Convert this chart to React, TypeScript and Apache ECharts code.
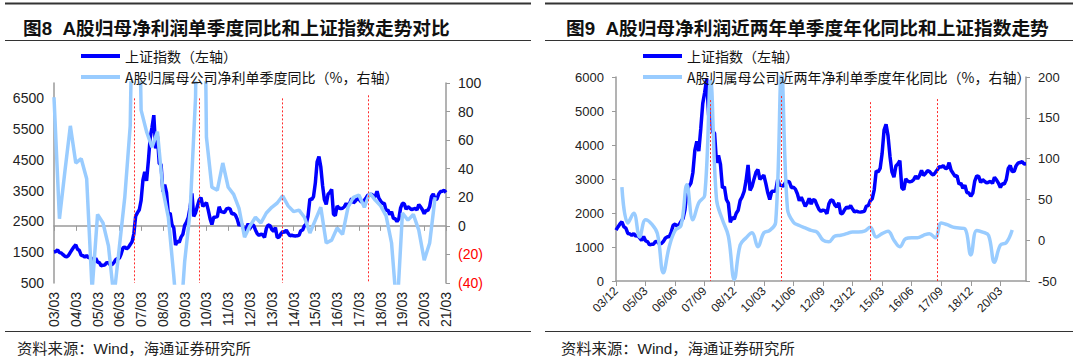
import React, { useEffect, useRef } from "react";
import * as echarts from "echarts";

// ---------- DATA ----------
// Shanghai Composite, month-end, 2003-03 .. 2021-04
const sseMonthly: number[] = [
  // 2003 Mar-Dec
  1510, 1521, 1577, 1487, 1477, 1421, 1367, 1349, 1397, 1497,
  // 2004
  1590, 1676, 1742, 1595, 1555, 1399, 1386, 1342, 1396, 1320, 1340, 1266,
  // 2005
  1192, 1306, 1181, 1159, 1060, 1080, 1083, 1162, 1155, 1092, 1099, 1161,
  // 2006
  1258, 1299, 1298, 1440, 1641, 1672, 1612, 1658, 1752, 1837, 2099, 2675,
  // 2007
  2786, 2881, 3183, 3841, 4109, 3820, 4471, 5218, 5552, 5955, 4871, 5262,
  // 2008
  4383, 4349, 3473, 3693, 3433, 2736, 2775, 2397, 2293, 1729, 1871, 1821,
  // 2009
  1991, 2082, 2373, 2477, 2633, 2959, 3412, 2667, 2779, 2996, 3195, 3277,
  // 2010
  2989, 3052, 3110, 2871, 2592, 2398, 2638, 2639, 2656, 2979, 2820, 2808,
  // 2011
  2791, 2905, 2928, 2911, 2743, 2762, 2702, 2568, 2359, 2468, 2333, 2199,
  // 2012
  2292, 2429, 2263, 2397, 2373, 2225, 2103, 2048, 2086, 2069, 1980, 2269,
  // 2013
  2385, 2366, 2237, 2178, 2301, 1979, 1994, 2098, 2175, 2141, 2220, 2116,
  // 2014
  2033, 2056, 2033, 2026, 2039, 2048, 2202, 2217, 2364, 2420, 2683, 3235,
  // 2015
  3210, 3310, 3748, 4442, 4612, 4277, 3664, 3206, 3053, 3383, 3445, 3539,
  // 2016
  2738, 2688, 3004, 2938, 2917, 2930, 2979, 3085, 3005, 3100, 3250, 3104,
  // 2017
  3159, 3242, 3223, 3155, 3117, 3192, 3273, 3361, 3349, 3393, 3317, 3307,
  // 2018
  3481, 3259, 3169, 3082, 3095, 2847, 2876, 2725, 2821, 2603, 2588, 2494,
  // 2019
  2585, 2941, 3091, 3078, 2899, 2979, 2933, 2886, 2905, 2929, 2872, 3050,
  // 2020
  2977, 2880, 2750, 2860, 2852, 2985, 3310, 3396, 3218, 3225, 3392, 3473,
  // 2021 Jan-Apr
  3483, 3509, 3442, 3447,
];

// Quarterly YoY of A-share net profit (%), 03/03 .. 20/09
const profitYoyQ: number[] = [
  90, 5, 38, 70, 44, 47, 33, -45, 8, 2, -14, -50,
  -15, 20, 70, 300, 81, 66, 55, 66, 25, 6, -35, -80,
  -25, 10, 90, 400, 62, 27, 25, 44, 27, 22, 12, -8,
  0, 6, 2, 9, 13, 16, 21, 14, 10, 11, 6, -5,
  4, 13, -12, -10, -1.5, -6, 13, 20, 21.6, 13, 23, 18,
  14, 7, -12, -60, 9, 4, 8, -3, -24, -12, 20,
];

// Quarterly 2-year annualised YoY (%), 04/03 .. 20/09
const profit2yQ: number[] = [
  65, 21, 33, 4, 25, 20, 8, -40, -8, 12, 18, 68,
  25, 46, 55, 195, 50, 25, 5, -48, -6, 3, 9, -8,
  9, 12, 22, 205, 38, 22, 18, 15, 12, 10, 0, -2,
  5, 6, 8, 10, 10, 11, 16, 4, 8, 11, 0, -8,
  2, 3, 3, 6, 8, 3, 21, 19, 16, 15, 14, -18,
  12, 10, 6, -27, -6, -3, 12.5,
];

const redLines1: string[] = ["06/11", "09/11", "13/09", "17/08"];
const redTops1: number[] = [6500, 6500, 6500, 6600];
const redLines2: string[] = ["07/12", "10/12", "14/09", "17/07"];
const redTops2: number[] = [5320, 5440, 5260, 5350];

const nameSse = "上证指数（左轴）";
const name1 = "A股归属母公司净利单季度同比（%，右轴）";
const name2 = "A股归属母公司近两年净利单季度年化同比（%，右轴）";
const title1 = "图8  A股归母净利润单季度同比和上证指数走势对比";
const title2 = "图9  A股归母净利润近两年单季度年化同比和上证指数走势";
const sourceText = "资料来源：Wind，海通证券研究所";

// ---------- helpers ----------
function monthLabels(y: number, m: number, n: number, step = 1): string[] {
  const out: string[] = [];
  let yy = y;
  let mm = m;
  for (let i = 0; i < n; i++) {
    out.push(String(yy % 100).padStart(2, "0") + "/" + String(mm).padStart(2, "0"));
    mm += step;
    while (mm > 12) {
      mm -= 12;
      yy += 1;
    }
  }
  return out;
}

const cats1 = monthLabels(2003, 3, 217);
const cats2 = monthLabels(2003, 12, 209);
const sse1 = sseMonthly.slice(0, 217);
const sse2 = sseMonthly.slice(9, 218);
const q1Dates = monthLabels(2003, 3, profitYoyQ.length, 3);
const q2Dates = monthLabels(2004, 3, profit2yQ.length, 3);

const LATIN = '"Liberation Sans", Arial, "Noto Sans CJK SC", sans-serif';
const CJK = '"Noto Sans CJK SC", sans-serif';
const AXIS_COLOR = "#9a9a9a";
const LABEL_COLOR = "#222";
const BLUE = "#0000ff";
const LIGHT = "#99ccff";

const plain = (v: number) => String(v);

export default function App() {
  const ref = useRef<HTMLDivElement>(null);

  useEffect(() => {
    document.body.style.margin = "0";
    if (!ref.current) return;
    const chart = echarts.init(ref.current, undefined, { renderer: "svg" });

    const axisLine = { show: true, lineStyle: { color: AXIS_COLOR, width: 1.5 } };
    const axisTick = { show: true, length: 4, lineStyle: { color: AXIS_COLOR, width: 1 } };

    const mkRed = (cats: string[], tops: number[], bottom: number) =>
      cats.map((c, i) => [
        { coord: [c, tops[i]] },
        { coord: [c, bottom] },
      ]);

    const option: any = {
      animation: false,
      textStyle: { fontFamily: LATIN },
      title: [
        {
          text: title1,
          left: 18,
          top: 14,
          textStyle: { fontSize: 18.7, fontWeight: "bold", color: "#111", fontFamily: LATIN },
        },
        {
          text: title2,
          left: 561,
          top: 14,
          textStyle: { fontSize: 18.7, fontWeight: "bold", color: "#111", fontFamily: LATIN },
        },
      ],
      legend: [
        {
          left: 76,
          top: 44,
          orient: "vertical",
          icon: "rect",
          itemWidth: 39,
          itemHeight: 4,
          itemGap: 7,
          data: [nameSse, name1],
          textStyle: { fontSize: 14, color: "#111", fontFamily: CJK },
          selectedMode: false,
        },
        {
          left: 638,
          top: 44,
          orient: "vertical",
          icon: "rect",
          itemWidth: 39,
          itemHeight: 4,
          itemGap: 7,
          data: [nameSse, name2],
          textStyle: { fontSize: 14, color: "#111", fontFamily: CJK },
          selectedMode: false,
        },
      ],
      grid: [
        { left: 54, top: 83, width: 392, height: 200 },
        { left: 616, top: 77, width: 410, height: 204 },
      ],
      xAxis: [
        {
          type: "category",
          gridIndex: 0,
          data: cats1,
          boundaryGap: false,
          axisLine,
          axisTick: { ...axisTick, interval: 11, length: 5 },
          axisLabel: { interval: 11, rotate: 90, fontSize: 14, color: LABEL_COLOR, margin: 9 },
          splitLine: { show: false },
        },
        {
          type: "category",
          gridIndex: 1,
          data: cats2,
          boundaryGap: false,
          axisLine,
          axisTick: { ...axisTick, interval: 14, length: 5 },
          axisLabel: { interval: 14, rotate: 45, fontSize: 12, color: LABEL_COLOR, margin: 8 },
          splitLine: { show: false },
        },
      ],
      yAxis: [
        {
          type: "value",
          gridIndex: 0,
          position: "left",
          min: 500,
          max: 7000,
          interval: 1000,
          axisLine,
          axisTick: { show: false },
          splitLine: { show: false },
          axisLabel: { showMaxLabel: false, fontSize: 14, color: LABEL_COLOR, margin: 10, formatter: plain },
        },
        {
          type: "value",
          gridIndex: 0,
          position: "right",
          min: -40,
          max: 100,
          interval: 20,
          axisLine,
          axisTick,
          splitLine: { show: false },
          axisLabel: {
            fontSize: 14,
            color: LABEL_COLOR,
            margin: 12,
            formatter: (v: number) => (v < 0 ? `{neg|(${-v})}` : `${v}`),
            rich: { neg: { color: "#ff0000", fontSize: 14, fontFamily: LATIN } },
          },
        },
        {
          type: "value",
          gridIndex: 1,
          position: "left",
          min: 0,
          max: 6000,
          interval: 1000,
          axisLine,
          axisTick,
          splitLine: { show: false },
          axisLabel: { fontSize: 13, color: LABEL_COLOR, margin: 12, formatter: plain },
        },
        {
          type: "value",
          gridIndex: 1,
          position: "right",
          min: -50,
          max: 200,
          interval: 50,
          axisLine,
          axisTick,
          splitLine: { show: false },
          axisLabel: { fontSize: 13, color: LABEL_COLOR, margin: 12, formatter: plain },
        },
      ],
      series: [
        {
          name: nameSse,
          type: "line",
          xAxisIndex: 0,
          yAxisIndex: 0,
          data: sse1,
          symbol: "none",
          showSymbol: false,
          lineStyle: { color: BLUE, width: 3.5 },
          itemStyle: { color: BLUE },
          z: 2,
        },
        {
          name: name1,
          type: "line",
          xAxisIndex: 0,
          yAxisIndex: 1,
          data: q1Dates.map((d, i) => [d, profitYoyQ[i]]),
          symbol: "none",
          showSymbol: false,
          lineStyle: { color: LIGHT, width: 3.5 },
          itemStyle: { color: LIGHT },
          z: 3,
        },
        {
          name: "red1",
          type: "line",
          xAxisIndex: 0,
          yAxisIndex: 0,
          data: [],
          z: 5,
          markLine: {
            silent: true,
            symbol: "none",
            label: { show: false },
            lineStyle: { color: "#ff2a2a", type: [2, 2], width: 1 },
            data: mkRed(redLines1, redTops1, 500),
          },
        },
        {
          name: nameSse,
          type: "line",
          xAxisIndex: 1,
          yAxisIndex: 2,
          data: sse2,
          symbol: "none",
          showSymbol: false,
          lineStyle: { color: BLUE, width: 3.5 },
          itemStyle: { color: BLUE },
          z: 2,
        },
        {
          name: name2,
          type: "line",
          xAxisIndex: 1,
          yAxisIndex: 3,
          data: q2Dates.map((d, i) => [d, profit2yQ[i]]),
          symbol: "none",
          showSymbol: false,
          smooth: 0.4,
          lineStyle: { color: LIGHT, width: 3.5 },
          itemStyle: { color: LIGHT },
          z: 3,
        },
        {
          name: "red2",
          type: "line",
          xAxisIndex: 1,
          yAxisIndex: 2,
          data: [],
          z: 5,
          markLine: {
            silent: true,
            symbol: "none",
            label: { show: false },
            lineStyle: { color: "#ff2a2a", type: [2, 2], width: 1 },
            data: mkRed(redLines2, redTops2, 0),
          },
        },
      ],
      graphic: [
        { type: "line", shape: { x1: 5, y1: 3.5, x2: 531, y2: 3.5 }, style: { stroke: "#333", lineWidth: 2 } },
        { type: "line", shape: { x1: 5, y1: 40.5, x2: 531, y2: 40.5 }, style: { stroke: "#333", lineWidth: 1 } },
        { type: "line", shape: { x1: 5, y1: 331.5, x2: 531, y2: 331.5 }, style: { stroke: "#333", lineWidth: 1 } },
        { type: "line", shape: { x1: 545, y1: 3.5, x2: 1073, y2: 3.5 }, style: { stroke: "#333", lineWidth: 2 } },
        { type: "line", shape: { x1: 545, y1: 40.5, x2: 1073, y2: 40.5 }, style: { stroke: "#333", lineWidth: 1 } },
        { type: "line", shape: { x1: 545, y1: 331.5, x2: 1073, y2: 331.5 }, style: { stroke: "#333", lineWidth: 1 } },
        {
          type: "text",
          x: 17,
          y: 348,
          style: { text: sourceText, fontSize: 15.3, fontFamily: LATIN, fill: "#222", verticalAlign: "middle" },
        },
        {
          type: "text",
          x: 561,
          y: 348,
          style: { text: sourceText, fontSize: 15.3, fontFamily: LATIN, fill: "#222", verticalAlign: "middle" },
        },
      ],
    };

    chart.setOption(option);
    return () => {
      chart.dispose();
    };
  }, []);

  return <div ref={ref} style={{ width: 1080, height: 357 }} />;
}
